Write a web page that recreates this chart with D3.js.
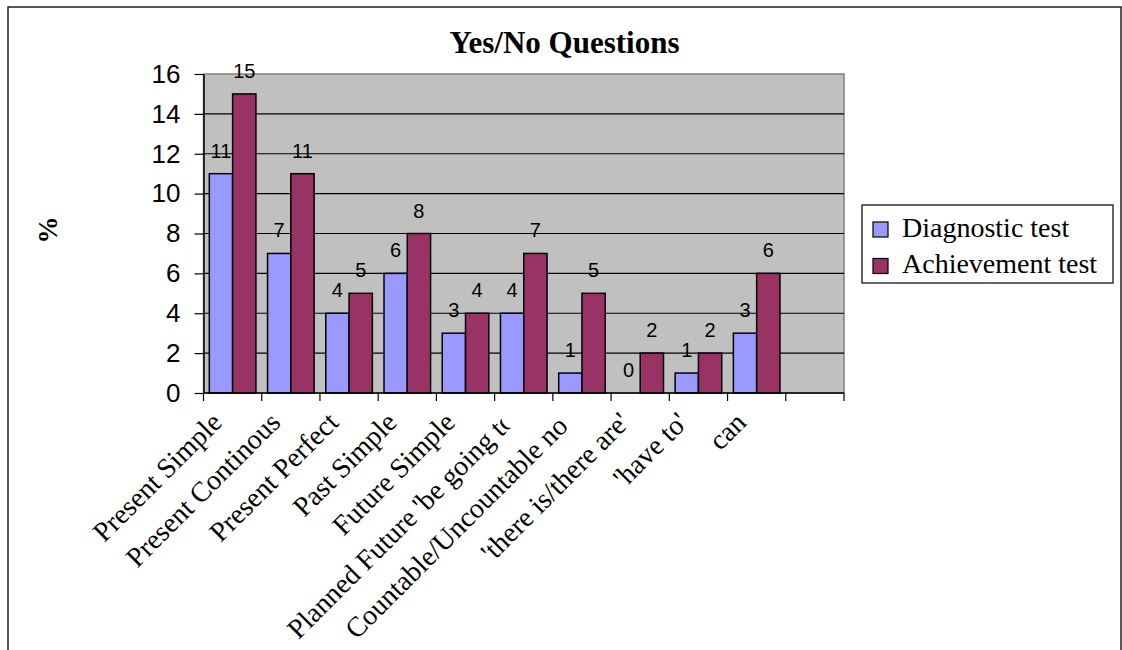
<!DOCTYPE html>
<html>
<head>
<meta charset="utf-8">
<script src="https://cdn.jsdelivr.net/npm/d3@7"></script>
<style>
  body { margin: 0; background: #fff; }
</style>
</head>
<body>
<div id="chart"></div>
<script>
// data (last slot is an empty category, as in the original sheet)
const categories = ["Present Simple", "Present Continous", "Present Perfect", "Past Simple",
    "Future Simple", "Planned Future 'be going to'", "Countable/Uncountable nouns",
    "'there is/there are'", "'have to'", "can", ""];
const diagnostic = [11, 7, 4, 6, 3, 4, 1, 0, 1, 3, null];
const achievement = [15, 11, 5, 8, 4, 7, 5, 2, 2, 6, null];
const seriesNames = ["Diagnostic test", "Achievement test"];
const seriesColors = ["#9999FF", "#993366"];
const yTicks = [0, 2, 4, 6, 8, 10, 12, 14, 16];

const width = 1122, height = 650;
const plot = {left: 203.5, right: 844, top: 74, bottom: 393};
const serif = "'Liberation Serif', 'Times New Roman', serif";
const sans = "'Liberation Sans', Arial, sans-serif";

const svg = d3.select("#chart").append("svg")
    .attr("width", width)
    .attr("height", height);

svg.append("rect")
    .attr("width", width)
    .attr("height", height)
    .attr("fill", "#fff");

// chart frame (bottom edge is off-page)
svg.append("rect")
    .attr("x", 8).attr("y", 7)
    .attr("width", 1113).attr("height", 700)
    .attr("fill", "none")
    .attr("stroke", "#222")
    .attr("stroke-width", 1.5);

const y = d3.scaleLinear().domain([0, 16]).range([plot.bottom, plot.top]);
const x0 = d3.scaleBand().domain(d3.range(categories.length)).range([plot.left, plot.right]);
const x1 = d3.scaleBand().domain([0, 1]).range([0, x0.bandwidth()]).paddingOuter(0.25);

// plot area
svg.append("rect")
    .attr("x", plot.left).attr("y", plot.top)
    .attr("width", plot.right - plot.left)
    .attr("height", plot.bottom - plot.top)
    .attr("fill", "#C0C0C0")
    .attr("stroke", "#808080")
    .attr("stroke-width", 1.5);

svg.append("g").selectAll("line")
    .data(yTicks.filter(d => d > 0 && d < 16))
    .join("line")
    .attr("x1", plot.left).attr("x2", plot.right)
    .attr("y1", d => y(d)).attr("y2", d => y(d))
    .attr("stroke", "#000")
    .attr("stroke-width", 1.2);

// bars
const rows = categories.map((c, i) => ({i: i, vals: [diagnostic[i], achievement[i]]}));
const groups = svg.append("g").selectAll("g")
    .data(rows)
    .join("g")
    .attr("transform", d => `translate(${x0(d.i)},0)`);

groups.selectAll("rect")
    .data(d => d.vals.map((v, s) => ({s: s, v: v})).filter(e => e.v !== null))
    .join("rect")
    .attr("x", e => x1(e.s))
    .attr("width", x1.bandwidth())
    .attr("y", e => y(e.v))
    .attr("height", e => y(0) - y(e.v))
    .attr("fill", e => seriesColors[e.s])
    .attr("stroke", "#000")
    .attr("stroke-width", 1.5);

groups.selectAll("text")
    .data(d => d.vals.map((v, s) => ({s: s, v: v})).filter(e => e.v !== null))
    .join("text")
    .attr("x", e => x1(e.s) + x1.bandwidth() / 2)
    .attr("y", e => y(e.v) - 16)
    .attr("text-anchor", "middle")
    .attr("font-family", sans)
    .attr("font-size", 20)
    .attr("fill", "#000")
    .text(e => e.v);

// y axis
const yAxis = svg.append("g")
    .attr("transform", `translate(${plot.left},0)`)
    .call(d3.axisLeft(y).tickValues(yTicks).tickSize(9).tickPadding(14).tickSizeOuter(0));
yAxis.select(".domain").attr("stroke", "#000").attr("stroke-width", 1.5);
yAxis.selectAll(".tick line").attr("stroke", "#000").attr("stroke-width", 1.2);
yAxis.selectAll(".tick text")
    .attr("font-family", sans)
    .attr("font-size", 26)
    .attr("fill", "#000");

// x axis
svg.append("line")
    .attr("x1", plot.left).attr("x2", plot.right)
    .attr("y1", plot.bottom).attr("y2", plot.bottom)
    .attr("stroke", "#000")
    .attr("stroke-width", 1.5);

svg.append("g").selectAll("line")
    .data(d3.range(categories.length + 1))
    .join("line")
    .attr("x1", i => plot.left + i * x0.step())
    .attr("x2", i => plot.left + i * x0.step())
    .attr("y1", plot.bottom).attr("y2", plot.bottom + 8)
    .attr("stroke", "#000")
    .attr("stroke-width", 1.2);

// rotated category labels, long ones get cut like in Excel
const maxLabelLen = 300;
const labelShift = 6;
const defs = svg.append("defs");
const labels = svg.append("g").selectAll("g")
    .data(rows.filter(d => categories[d.i] !== ""))
    .join("g")
    .attr("transform", d => `translate(${x0(d.i) + x0.bandwidth() / 2 - 9},${plot.bottom + 31}) rotate(-45)`);

labels.append("text")
    .attr("text-anchor", "end")
    .attr("font-family", serif)
    .attr("font-size", 28)
    .attr("fill", "#000")
    .text(d => categories[d.i])
    .each(function(d){
        let len = this.getComputedTextLength();
        if(len > maxLabelLen){
            defs.append("clipPath").attr("id", "lab" + d.i)
                .append("rect")
                .attr("x", -maxLabelLen - labelShift).attr("y", -40)
                .attr("width", maxLabelLen).attr("height", 60);
            d3.select(this)
                .attr("text-anchor", "start")
                .attr("x", -maxLabelLen - labelShift)
                .attr("clip-path", `url(#lab${d.i})`);
        }
    });

// title and axis title
svg.append("text")
    .attr("x", 564.5).attr("y", 53)
    .attr("text-anchor", "middle")
    .attr("font-family", serif)
    .attr("font-weight", "bold")
    .attr("font-size", 31)
    .text("Yes/No Questions");

svg.append("text")
    .attr("transform", "translate(48,230) rotate(-90)")
    .attr("text-anchor", "middle")
    .attr("dominant-baseline", "central")
    .attr("font-family", serif)
    .attr("font-weight", "bold")
    .attr("font-size", 27)
    .text("%");

// legend
const legend = svg.append("g").attr("transform", "translate(862,205)");
legend.append("rect")
    .attr("width", 251).attr("height", 78)
    .attr("fill", "#fff")
    .attr("stroke", "#000")
    .attr("stroke-width", 1.2);

const items = legend.selectAll("g.item")
    .data(seriesNames)
    .join("g")
    .attr("class", "item")
    .attr("transform", (d, i) => `translate(11,${17 + i * 36.5})`);

items.append("rect")
    .attr("width", 15).attr("height", 15)
    .attr("fill", (d, i) => seriesColors[i])
    .attr("stroke", "#000")
    .attr("stroke-width", 1.2);

items.append("text")
    .attr("x", 29).attr("y", 14.5)
    .attr("font-family", serif)
    .attr("font-size", 28)
    .text(d => d);
</script>
</body>
</html>
